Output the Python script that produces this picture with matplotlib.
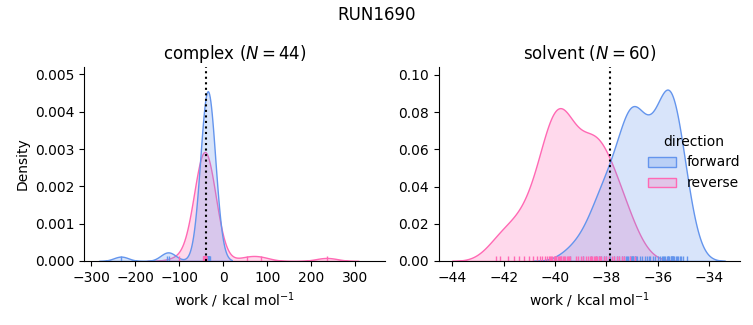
import matplotlib
matplotlib.use("Agg")
import matplotlib.pyplot as plt
import pandas as pd
import seaborn as sns

complex_forward = [-232, -128, -122,
                   -39, -38.5, -38, -37.5, -37, -37, -36.5, -36.5, -36, -36,
                   -36, -35.5, -35.5, -35.5, -35, -35, -35, -35, -34.5, -34.5,
                   -34.5, -34, -34, -34, -33.5, -33.5, -33, -33, -32.5, -32,
                   -31.5, -31, -37.8, -36.8, -35.8, -34.8, -33.8, -35.2, -34.2]
complex_reverse = [235, 55, 85, -100,
                   -45, -44.5, -44, -44, -43.5, -43.5, -43, -43, -43, -42.5,
                   -42.5, -42.5, -42, -42, -42, -42, -41.5, -41.5, -41.5, -41,
                   -41, -41, -40.5, -40.5, -40, -40, -39.5, -39, -38.5, -38,
                   -44.2, -43.2, -42.2, -41.2, -40.2, -42.8]
solvent_forward = [-39.4, -38.9, -38.6, -38.4, -38.3, -38.2, -38.1, -38.0, -37.9, -37.85,
                   -37.7, -37.6, -37.5, -37.4, -37.3, -37.25, -37.2, -36.35, -37.15, -37.1,
                   -37.05, -37.0, -37.0, -36.95, -36.95, -36.9, -36.9, -36.85, -36.8, -36.7,
                   -36.6, -36.5, -36.4, -36.3, -36.2, -36.1, -36.0, -35.9, -35.85, -35.8,
                   -35.75, -35.7, -35.65, -35.6, -35.6, -35.55, -35.5, -35.5, -35.45, -35.45,
                   -35.4, -35.4, -35.35, -35.3, -35.25, -35.2, -35.15, -35.1, -35.0, -34.85]
solvent_reverse = [-42.3, -42.15, -41.85, -41.6, -41.4, -41.2, -41.0, -40.85, -40.7, -40.6,
                   -40.5, -39.95, -40.4, -40.3, -40.25, -40.2, -40.15, -40.1, -40.05, -40.0,
                   -39.95, -39.9, -39.85, -39.8, -39.75, -39.7, -39.65, -39.6, -39.55, -39.5,
                   -39.45, -39.4, -39.75, -39.2, -39.1, -39.0, -38.9, -38.8, -38.7, -38.65,
                   -38.6, -38.55, -38.5, -38.45, -38.4, -38.35, -38.3, -38.25, -38.2, -38.1,
                   -38.0, -37.9, -37.8, -37.7, -37.6, -37.5, -37.4, -37.3, -37.1, -36.9]

phases = ["complex", "solvent"]
n_samples = {"complex": 44, "solvent": 60}
estimates = {"complex": -38.6, "solvent": -37.85}
x_range = {"complex": (-316, 368), "solvent": (-44.52, -32.79)}
y_top = {"complex": 0.0052, "solvent": 0.1043}

frames = []
for phase, direction, vals in [("complex", "forward", complex_forward),
                               ("complex", "reverse", complex_reverse),
                               ("solvent", "forward", solvent_forward),
                               ("solvent", "reverse", solvent_reverse)]:
    frames.append(pd.DataFrame({"work": vals, "direction": direction, "phase": phase}))
df = pd.concat(frames, ignore_index=True)

g = sns.displot(df, x="work", hue="direction", col="phase", kind="kde",
                fill=True, rug=True, common_norm=True,
                hue_order=["forward", "reverse"], col_order=phases,
                palette={"forward": "cornflowerblue", "reverse": "hotpink"},
                facet_kws=dict(sharex=False, sharey=False),
                height=3, aspect=1.2)

for ax, phase in zip(g.axes.flat, phases):
    ax.set_title(f"{phase} ($N={n_samples[phase]}$)")
    ax.axvline(estimates[phase], color="k", ls=":", lw=1.5)
    ax.set_xlabel("work / kcal mol$^{-1}$")
    ax.set_xlim(*x_range[phase])
    ax.set_ylim(0, y_top[phase])
g.axes[0, 0].set_ylabel("Density")

fig = g.figure
fig.suptitle("RUN1690")
fig.set_size_inches(7.53, 3.25)
fig.subplots_adjust(left=0.1116, right=0.983, bottom=0.197, top=0.794, wspace=0.178)
fig.savefig("out.png", dpi=100)
